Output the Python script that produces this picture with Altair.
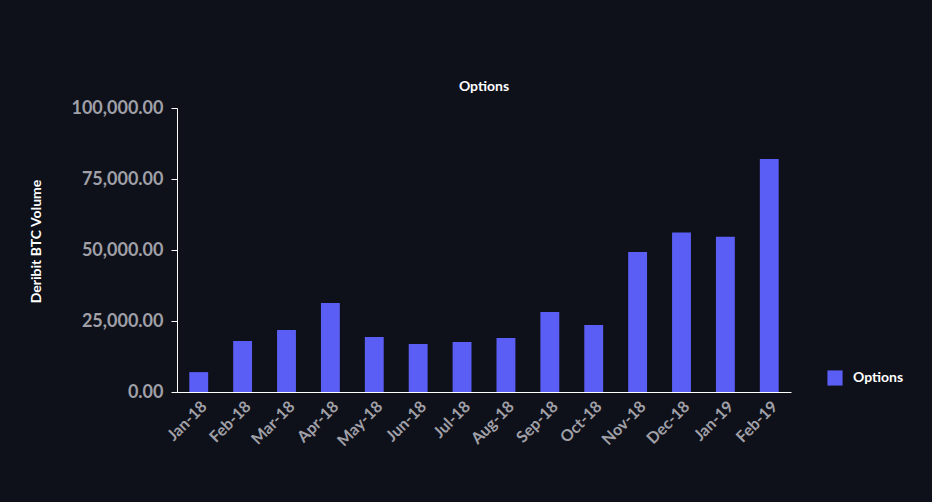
import altair as alt
import pandas as pd

months = ["Jan-18", "Feb-18", "Mar-18", "Apr-18", "May-18", "Jun-18", "Jul-18",
          "Aug-18", "Sep-18", "Oct-18", "Nov-18", "Dec-18", "Jan-19", "Feb-19"]
volumes = [7000, 18000, 21800, 31300, 19400, 16900, 17600,
           19000, 28200, 23600, 49300, 56200, 54700, 82000]
series = ["Options"] * len(months)

df = pd.DataFrame({"Month": months, "Volume": volumes, "Series": series})

BG = "#0f111a"
BAR = "#5b5ef5"
GREY = "#a0a0a8"

chart = alt.Chart(df).mark_bar(color=BAR).encode(
    x=alt.X("Month:N", sort=months, title=None,
            scale=alt.Scale(paddingInner=0.57, paddingOuter=0.28),
            axis=alt.Axis(labelAngle=-45, labelColor=GREY, labelFont="Lato",
                          labelFontSize=16, labelFontWeight="bold",
                          domainColor="white", ticks=False,
                          labelPadding=6)),
    y=alt.Y("Volume:Q", title="Deribit BTC Volume",
            scale=alt.Scale(domain=[0, 100000]),
            axis=alt.Axis(values=[0, 25000, 50000, 75000, 100000], format=",.2f",
                          labelColor=GREY, labelFont="Lato", labelFontSize=18,
                          labelFontWeight="bold",
                          domainColor="white", tickColor="white", tickSize=6,
                          grid=False, labelPadding=8,
                          titleColor="white", titleFont="Lato", titleFontSize=14,
                          titleFontWeight="bold", titleX=-134, titleY=133)),
    color=alt.Color("Series:N", scale=alt.Scale(range=[BAR]),
                    legend=alt.Legend(title=None, orient="none", legendX=650, legendY=262,
                                      symbolType="square", symbolSize=230,
                                      symbolStrokeWidth=0,
                                      labelColor="white", labelFont="Lato",
                                      labelFontSize=14, labelFontWeight="bold",
                                      labelOffset=10)),
).properties(
    width=614, height=284,
    title=alt.TitleParams("Options", color="white", font="Lato", fontSize=14,
                          fontWeight="bold", offset=5),
    autosize=alt.AutoSizeParams(type="none"),
    padding={"left": 177, "top": 108, "right": 141, "bottom": 110},
    background=BG,
).configure_view(stroke=None)

chart.save("out.html", embed_options={"renderer": "svg", "actions": False})
